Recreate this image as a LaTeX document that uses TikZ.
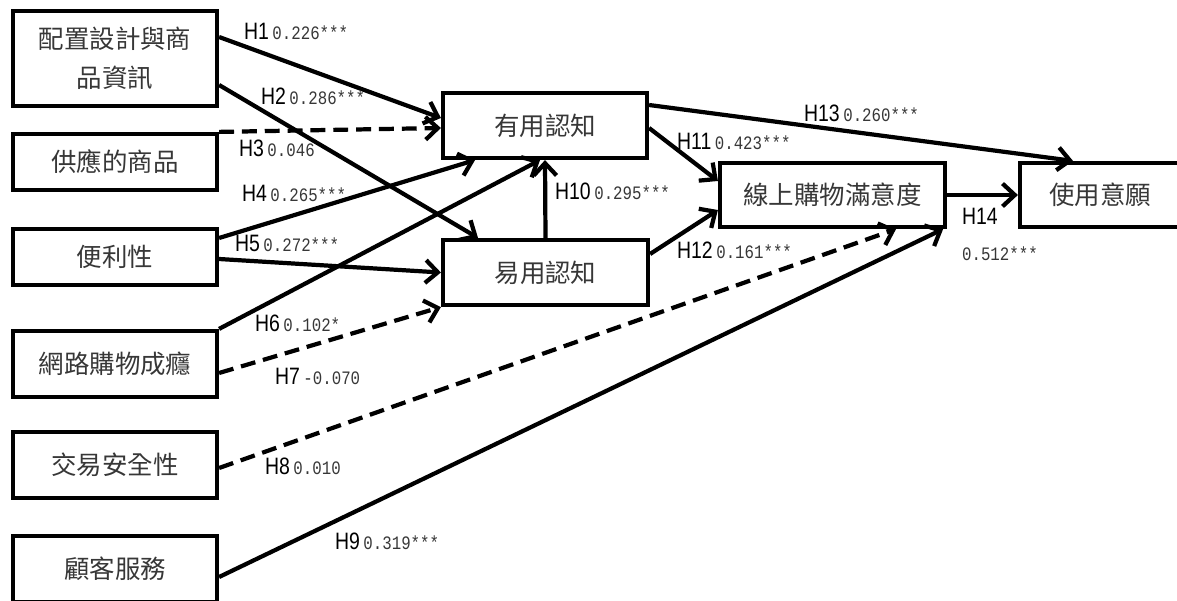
\documentclass[tikz,border=0pt]{standalone}
\usepackage{fontspec}
\newfontfamily\cjkfont{Noto Sans CJK TC}
\newfontfamily\hfont[FakeStretch=0.82]{Liberation Sans}
\newfontfamily\numfont[FakeStretch=0.83]{Liberation Mono}
\usetikzlibrary{arrows.meta,calc}
\definecolor{txtgray}{RGB}{55,55,55}
\newcommand\hyplab[2]{{\hfont\fontsize{13.5}{15}\selectfont #1}\hspace{2pt}{\numfont\fontsize{10.8}{14}\selectfont\color{txtgray}#2}}

\begin{document}
\begin{tikzpicture}[x=0.02cm,y=-0.02cm,line width=2.4pt,
  box/.style={draw,rectangle,inner sep=0pt,minimum width=4.08cm,minimum height=1.12cm,
    font=\cjkfont\fontsize{14.5}{22}\selectfont,text=txtgray},
  arr/.style={-{Straight Barb[length=7pt,width=13pt]}},
  darr/.style={arr,dash pattern=on 8.5pt off 4.5pt},
  lab/.style={anchor=west,inner sep=0pt}]
  \useasboundingbox (0,0) rectangle (1177,601);
  \node[box,minimum height=1.9cm,align=center] (b1) at (115,58.5) {配置設計與商\\品資訊};
  \node[box] (b2) at (115,162) {供應的商品};
  \node[box] (b3) at (115,257) {便利性};
  \node[box,minimum height=1.32cm] (b4) at (115,364) {網路購物成癮};
  \node[box,minimum height=1.32cm] (b5) at (115,465) {交易安全性};
  \node[box,minimum height=1.32cm] (b6) at (115,569) {顧客服務};
  \node[box,minimum height=1.3cm] (useful) at (545,125.5) {有用認知};
  \node[box,minimum width=4.1cm,minimum height=1.3cm] (ease) at (545.5,272.5) {易用認知};
  \node[box,minimum width=4.5cm,minimum height=1.28cm] (sat) at (832.5,195) {線上購物滿意度};
  \node[box,minimum width=3.2cm,minimum height=1.28cm] (intent) at (1100,195) {使用意願};

  \draw[arr] ($(b1.east)+(0,-21.5)$) -- ($(useful.west)+(0,-7.5)$);
  \draw[arr] ($(b1.east)+(0,26.5)$) -- ($(ease.north)+(-67.5,0)$);
  \draw[darr] (b2.north east) -- ($(useful.west)+(0,2.5)$);
  \draw[arr] ($(b3.east)+(0,-19)$) -- ($(useful.south)+(-70,0)$);
  \draw[arr] ($(b3.east)+(0,2)$) -- (ease.west);
  \draw[arr] (b4.north east) -- ($(useful.south)+(-5,0)$);
  \draw[darr] ($(b4.east)+(0,9)$) -- (ease.south west);
  \draw[darr] ($(b5.east)+(0,3)$) -- ($(sat.south)+(63.5,0)$);
  \draw[arr] ($(b6.east)+(0,8)$) -- ($(sat.south east)+(-4,0)$);
  \draw[arr] (ease.north) -- (useful.south);
  \draw[arr] ($(useful.east)+(0,2.5)$) -- ($(sat.west)+(0,-14)$);
  \draw[arr] ($(ease.east)+(0,-18.5)$) -- ($(sat.west)+(0,15)$);
  \draw[arr] ($(useful.east)+(0,-20.5)$) -- ($(intent.north)+(-27,0)$);
  \draw[arr] (sat.east) -- (intent.west);

  \node[lab] (l1) at (242,31) {\hyplab{H1}{0.226***}};
  \node[lab] (l2) at (259,96) {\hyplab{H2}{0.286***}};
  \node[lab] (l3) at (237,148) {\hyplab{H3}{0.046}};
  \node[lab] (l4) at (240,193) {\hyplab{H4}{0.265***}};
  \node[lab] (l5) at (233,243) {\hyplab{H5}{0.272***}};
  \node[lab] (l6) at (253,323) {\hyplab{H6}{0.102*}};
  \node[lab] (l7) at (273,376) {\hyplab{H7}{-0.070}};
  \node[lab] (l8) at (263,466) {\hyplab{H8}{0.010}};
  \node[lab] (l9) at (333,541) {\hyplab{H9}{0.319***}};
  \node[lab] (l10) at (553,191) {\hyplab{H10}{0.295***}};
  \node[lab] (l11) at (675,141) {\hyplab{H11}{0.423***}};
  \node[lab] (l12) at (675,250) {\hyplab{H12}{0.161***}};
  \node[lab] (l13) at (802,113) {\hyplab{H13}{0.260***}};
  \node[lab] (l14) at (960,216) {\hyplab{H14}{}};
  \node[lab] (l14v) at (960,254) {{\numfont\fontsize{10.8}{14}\selectfont\color{txtgray}0.512***}};
\end{tikzpicture}
\end{document}
